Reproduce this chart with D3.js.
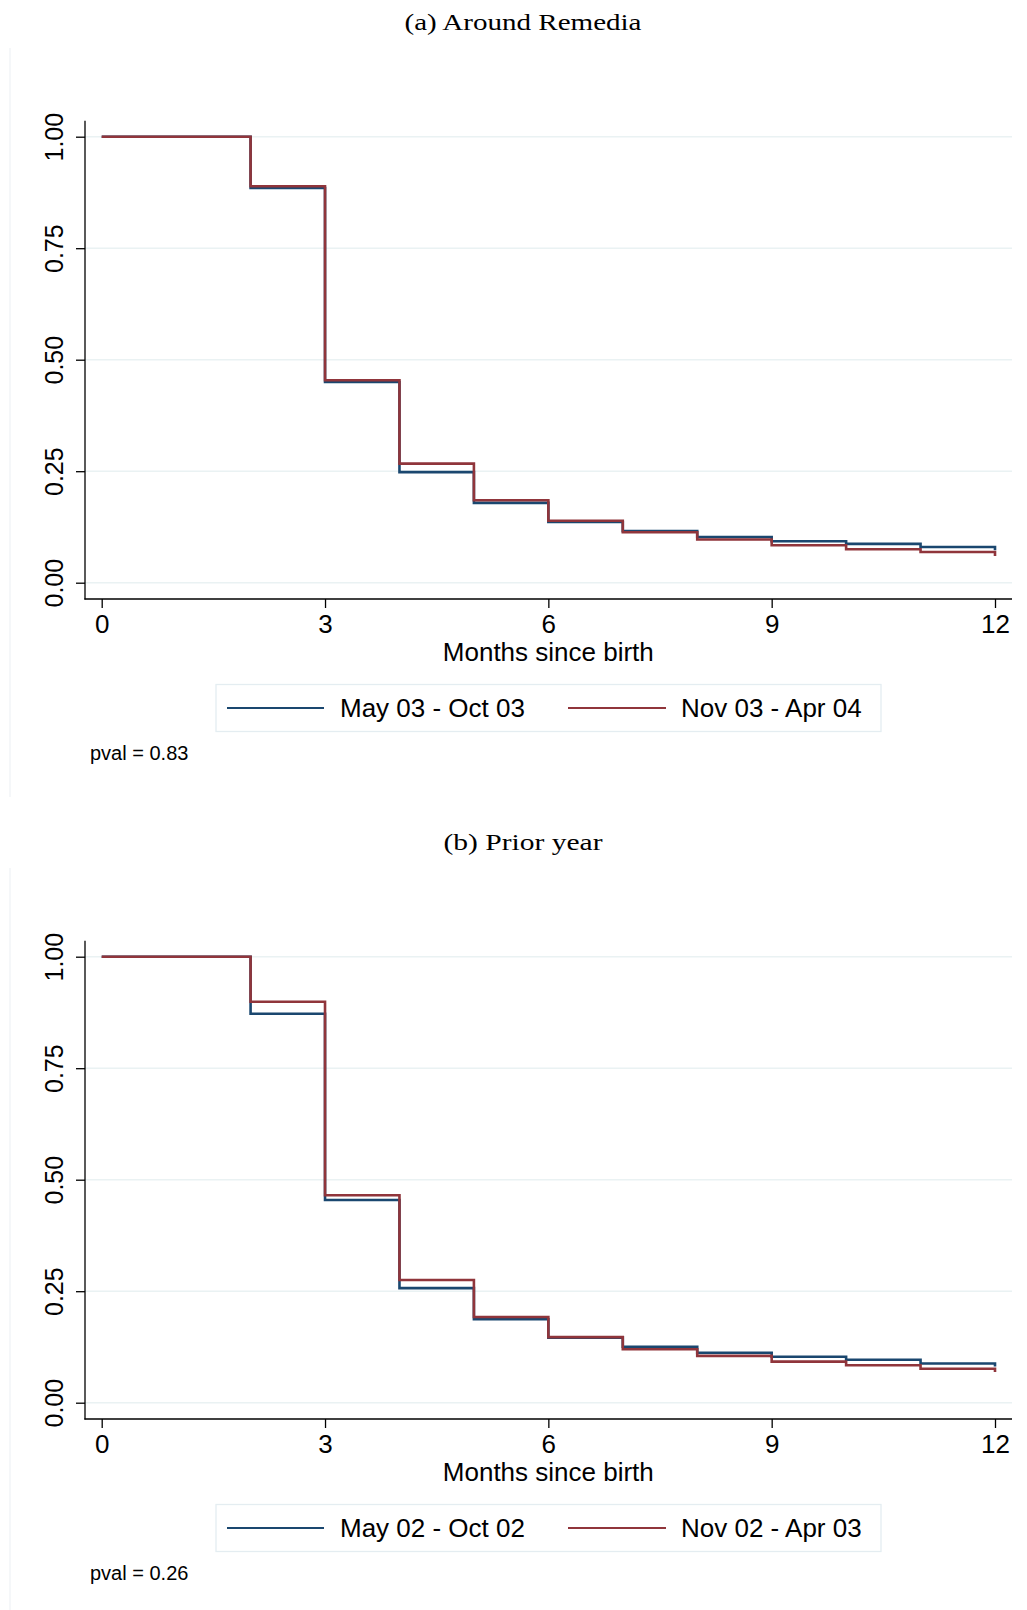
<!DOCTYPE html>
<html>
<head>
<meta charset="utf-8">
<script src="https://cdn.jsdelivr.net/npm/d3@7"></script>
<style>
  body { margin: 0; background: #fff; }
  text { font-family: 'Liberation Sans', Arial, sans-serif; fill: #000; }
</style>
</head>
<body>
<div id="chart"></div>
<script>
// months since birth (step positions)
const months = [0, 1, 2, 3, 4, 5, 6, 7, 8, 9, 10, 11, 12]

// (a) Around Remedia
const topBlue = [1, 1, 0.885, 0.450, 0.248, 0.179, 0.136, 0.116, 0.1025, 0.093, 0.087, 0.080, 0.073]
const topRed = [1, 1, 0.889, 0.454, 0.267, 0.185, 0.139, 0.113, 0.097, 0.084, 0.075, 0.069, 0.060]

// (b) Prior year
const botBlue = [1, 1, 0.872, 0.4545, 0.257, 0.187, 0.146, 0.1256, 0.112, 0.103, 0.0964, 0.088, 0.081]
const botRed = [1, 1, 0.899, 0.465, 0.275, 0.192, 0.147, 0.120, 0.105, 0.092, 0.084, 0.076, 0.069]

const yTicks = [0, 0.25, 0.5, 0.75, 1]
const xTicks = [0, 3, 6, 9, 12]

const navy = '#1a476f'
const maroon = '#90353b'
const gridColor = '#eaf2f3'

const width = 1027
const height = 1610

const svg = d3
  .select('#chart')
  .append('svg')
  .attr('width', width)
  .attr('height', height)

svg.append('rect').attr('width', width).attr('height', height).attr('fill', '#fff')

const xPositionScale = d3.scaleLinear().domain([0, 12]).range([101.7, 995])

function drawPanel(dy, title, titleWidth, blue, red, labels, pval) {
  const g = svg.append('g').attr('transform', 'translate(0,' + dy + ')')

  const yPositionScale = d3.scaleLinear().domain([0, 1]).range([582.7, 136.7])

  // faint edge of graph region
  g.append('line')
    .attr('x1', 10).attr('x2', 10)
    .attr('y1', 48).attr('y2', 797)
    .attr('stroke', '#eef2f5')
    .attr('stroke-width', 1.2)

  g.append('text')
    .attr('x', 523)
    .attr('y', 29.5)
    .attr('text-anchor', 'middle')
    .style('font-family', "'Liberation Serif', 'DejaVu Serif', serif")
    .style('font-size', '24px')
    .attr('textLength', titleWidth)
    .attr('lengthAdjust', 'spacingAndGlyphs')
    .text(title)

  // gridlines
  g.selectAll('.grid')
    .data(yTicks)
    .enter()
    .append('line')
    .attr('class', 'grid')
    .attr('x1', 85)
    .attr('x2', 1012)
    .attr('y1', d => yPositionScale(d))
    .attr('y2', d => yPositionScale(d))
    .attr('stroke', gridColor)
    .attr('stroke-width', 1.6)

  // y axis
  const yAxis = d3.axisLeft(yPositionScale)
    .tickValues(yTicks)
    .tickFormat(d3.format('.2f'))
    .tickSize(9)
    .tickSizeOuter(0)

  const ya = g.append('g').attr('transform', 'translate(85,0)').call(yAxis)
  ya.select('.domain').remove()
  ya.selectAll('line').attr('stroke', '#000').attr('stroke-width', 1.3)
  ya.selectAll('text')
    .attr('x', 0)
    .attr('dy', 0)
    .attr('text-anchor', 'middle')
    .attr('transform', 'translate(-22,0) rotate(-90)')
    .style('font-size', '25px')
    .style('font-family', "'Liberation Sans', Arial, sans-serif")

  g.append('line')
    .attr('x1', 85).attr('x2', 85)
    .attr('y1', 120.7).attr('y2', 599.6)
    .attr('stroke', '#000').attr('stroke-width', 1.3)

  // x axis
  const xAxis = d3.axisBottom(xPositionScale)
    .tickValues(xTicks)
    .tickSize(9)
    .tickSizeOuter(0)

  const xa = g.append('g').attr('transform', 'translate(0,599)').call(xAxis)
  xa.select('.domain').remove()
  xa.selectAll('line').attr('stroke', '#000').attr('stroke-width', 1.3)
  xa.selectAll('text')
    .attr('y', 34)
    .attr('dy', 0)
    .style('font-size', '26px')
    .style('font-family', "'Liberation Sans', Arial, sans-serif")

  g.append('line')
    .attr('x1', 84.4).attr('x2', 1012)
    .attr('y1', 599).attr('y2', 599)
    .attr('stroke', '#000').attr('stroke-width', 1.3)

  g.append('text')
    .attr('x', 548.3)
    .attr('y', 661)
    .attr('text-anchor', 'middle')
    .style('font-size', '26px')
    .text('Months since birth')

  // survival step lines
  const line = d3.line()
    .x((d, i) => xPositionScale(months[i]))
    .y(d => yPositionScale(d))
    .curve(d3.curveStepAfter)

  g.append('path')
    .datum(blue)
    .attr('d', line)
    .attr('fill', 'none')
    .attr('stroke', navy)
    .attr('stroke-width', 2.6)

  g.append('path')
    .datum(red)
    .attr('d', line)
    .attr('fill', 'none')
    .attr('stroke', maroon)
    .attr('stroke-width', 2.6)

  // legend
  g.append('rect')
    .attr('x', 216)
    .attr('y', 684.5)
    .attr('width', 665)
    .attr('height', 47)
    .attr('fill', '#fff')
    .attr('stroke', '#e4edf1')
    .attr('stroke-width', 1.3)

  const items = [
    { label: labels[0], color: navy, x1: 227, x2: 324, tx: 340 },
    { label: labels[1], color: maroon, x1: 568, x2: 666, tx: 681 }
  ]

  items.forEach(d => {
    g.append('line')
      .attr('x1', d.x1).attr('x2', d.x2)
      .attr('y1', 708).attr('y2', 708)
      .attr('stroke', d.color)
      .attr('stroke-width', 2.2)
    g.append('text')
      .attr('x', d.tx)
      .attr('y', 716.7)
      .style('font-size', '26px')
      .text(d.label)
  })

  g.append('text')
    .attr('x', 90)
    .attr('y', 760)
    .style('font-size', '20px')
    .text(pval)
}

drawPanel(0, '(a) Around Remedia', 237, topBlue, topRed, ['May 03 - Oct 03', 'Nov 03 - Apr 04'], 'pval = 0.83')
drawPanel(820, '(b) Prior year', 159, botBlue, botRed, ['May 02 - Oct 02', 'Nov 02 - Apr 03'], 'pval = 0.26')
</script>
</body>
</html>
